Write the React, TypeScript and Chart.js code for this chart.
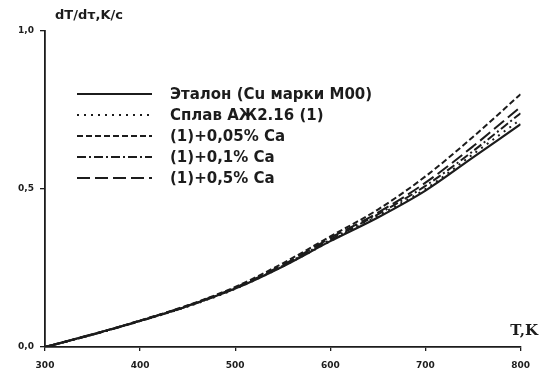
import React, { useEffect, useRef } from "react";
import { Chart, registerables } from "chart.js";

Chart.register(...registerables);

// ---- data ----
const temperatures = [300, 350, 400, 450, 500, 550, 600, 650, 700, 750, 800];
const etalon = [0, 0.04, 0.083, 0.13, 0.185, 0.255, 0.335, 0.41, 0.495, 0.6, 0.705];
const splav = [0, 0.039, 0.082, 0.128, 0.184, 0.255, 0.335, 0.415, 0.5, 0.61, 0.72];
const ca005 = [0, 0.04, 0.084, 0.132, 0.19, 0.265, 0.35, 0.435, 0.54, 0.665, 0.8];
const ca01 = [0, 0.039, 0.082, 0.129, 0.186, 0.257, 0.34, 0.42, 0.51, 0.62, 0.74];
const ca05 = [0, 0.04, 0.083, 0.131, 0.188, 0.26, 0.345, 0.425, 0.52, 0.635, 0.76];

const seriesNames = [
  "Эталон (Cu марки М00)",
  "Сплав АЖ2.16 (1)",
  "(1)+0,05% Ca",
  "(1)+0,1% Ca",
  "(1)+0,5% Ca",
];
const seriesValues = [etalon, splav, ca005, ca01, ca05];
const seriesDashes: number[][] = [[], [2, 5], [6, 3], [9, 3, 2, 3], [13, 5]];

const xTickValues = [300, 400, 500, 600, 700, 800];
const yTickValues = [0, 0.5, 1];
const yAxisTitle = "dT/dτ,K/c";
const xAxisTitle = "T,K";

const INK = "#1c1c1c";

const overlayPlugin = {
  id: "overlay",
  afterDatasetsDraw(chart: any) {
    const ctx = chart.ctx as CanvasRenderingContext2D;
    ctx.save();
    // legend inside the plot
    chart.data.datasets.forEach((ds: any, i: number) => {
      const y = 94 + i * 21;
      ctx.beginPath();
      ctx.setLineDash(ds.borderDash || []);
      ctx.lineWidth = ds.borderWidth;
      ctx.strokeStyle = ds.borderColor;
      ctx.moveTo(77, y);
      ctx.lineTo(152, y);
      ctx.stroke();
      ctx.setLineDash([]);
      ctx.fillStyle = INK;
      ctx.font = 'bold 15px "DejaVu Sans", sans-serif';
      ctx.textBaseline = "middle";
      ctx.textAlign = "left";
      ctx.fillText(ds.label, 170, y + 1);
    });
    // axis titles
    ctx.fillStyle = INK;
    ctx.textBaseline = "middle";
    ctx.font = 'bold 13px "DejaVu Sans", sans-serif';
    ctx.textAlign = "left";
    ctx.fillText(yAxisTitle, 55, 16);
    ctx.font = 'bold 15px "DejaVu Serif", serif';
    ctx.textAlign = "right";
    ctx.fillText(xAxisTitle, 538, 331);
    ctx.restore();
  },
};

export default function App() {
  const canvasRef = useRef<HTMLCanvasElement | null>(null);

  useEffect(() => {
    if (!canvasRef.current) return;
    const datasets = seriesNames.map((name, i) => ({
      label: name,
      data: temperatures.map((t, j) => ({ x: t, y: seriesValues[i][j] })),
      borderColor: INK,
      backgroundColor: INK,
      borderWidth: i === 0 ? 2.2 : 2,
      borderDash: seriesDashes[i],
      pointRadius: 0,
      cubicInterpolationMode: "monotone" as const,
      fill: false,
    }));

    const tickFont = { family: '"DejaVu Sans", sans-serif', size: 9, weight: "bold" as const };

    const chart = new Chart(canvasRef.current, {
      type: "line",
      data: { datasets },
      plugins: [overlayPlugin],
      options: {
        animation: false,
        responsive: false,
        layout: { padding: { top: 31, right: 13, left: 0, bottom: 0 } },
        plugins: { legend: { display: false }, tooltip: { enabled: false } },
        scales: {
          x: {
            type: "linear",
            min: 300,
            max: 800,
            afterBuildTicks: (scale: any) => {
              scale.ticks = xTickValues.map((v) => ({ value: v }));
            },
            afterFit: (scale: any) => {
              scale.height = 34;
            },
            ticks: {
              color: INK,
              font: tickFont,
              padding: 9,
              maxRotation: 0,
              callback: (v: any) => String(v),
            },
            grid: { drawOnChartArea: false, drawTicks: true, tickLength: 4, color: INK, lineWidth: 1.3 },
            border: { display: true, color: INK, width: 1.8 },
          },
          y: {
            type: "linear",
            min: 0,
            max: 1,
            afterBuildTicks: (scale: any) => {
              scale.ticks = yTickValues.map((v) => ({ value: v }));
            },
            afterFit: (scale: any) => {
              scale.width = 45;
            },
            ticks: {
              color: INK,
              font: tickFont,
              padding: 6,
              callback: (v: any) => Number(v).toFixed(1).replace(".", ","),
            },
            grid: { drawOnChartArea: false, drawTicks: true, tickLength: 5, color: INK, lineWidth: 1.3 },
            border: { display: true, color: INK, width: 1.8 },
          },
        },
      },
    });
    return () => chart.destroy();
  }, []);

  return (
    <div style={{ position: "fixed", left: 0, top: 0, width: 539, height: 381, background: "#fff" }}>
      <canvas ref={canvasRef} width={539} height={381} style={{ display: "block", width: 539, height: 381 }} />
    </div>
  );
}
